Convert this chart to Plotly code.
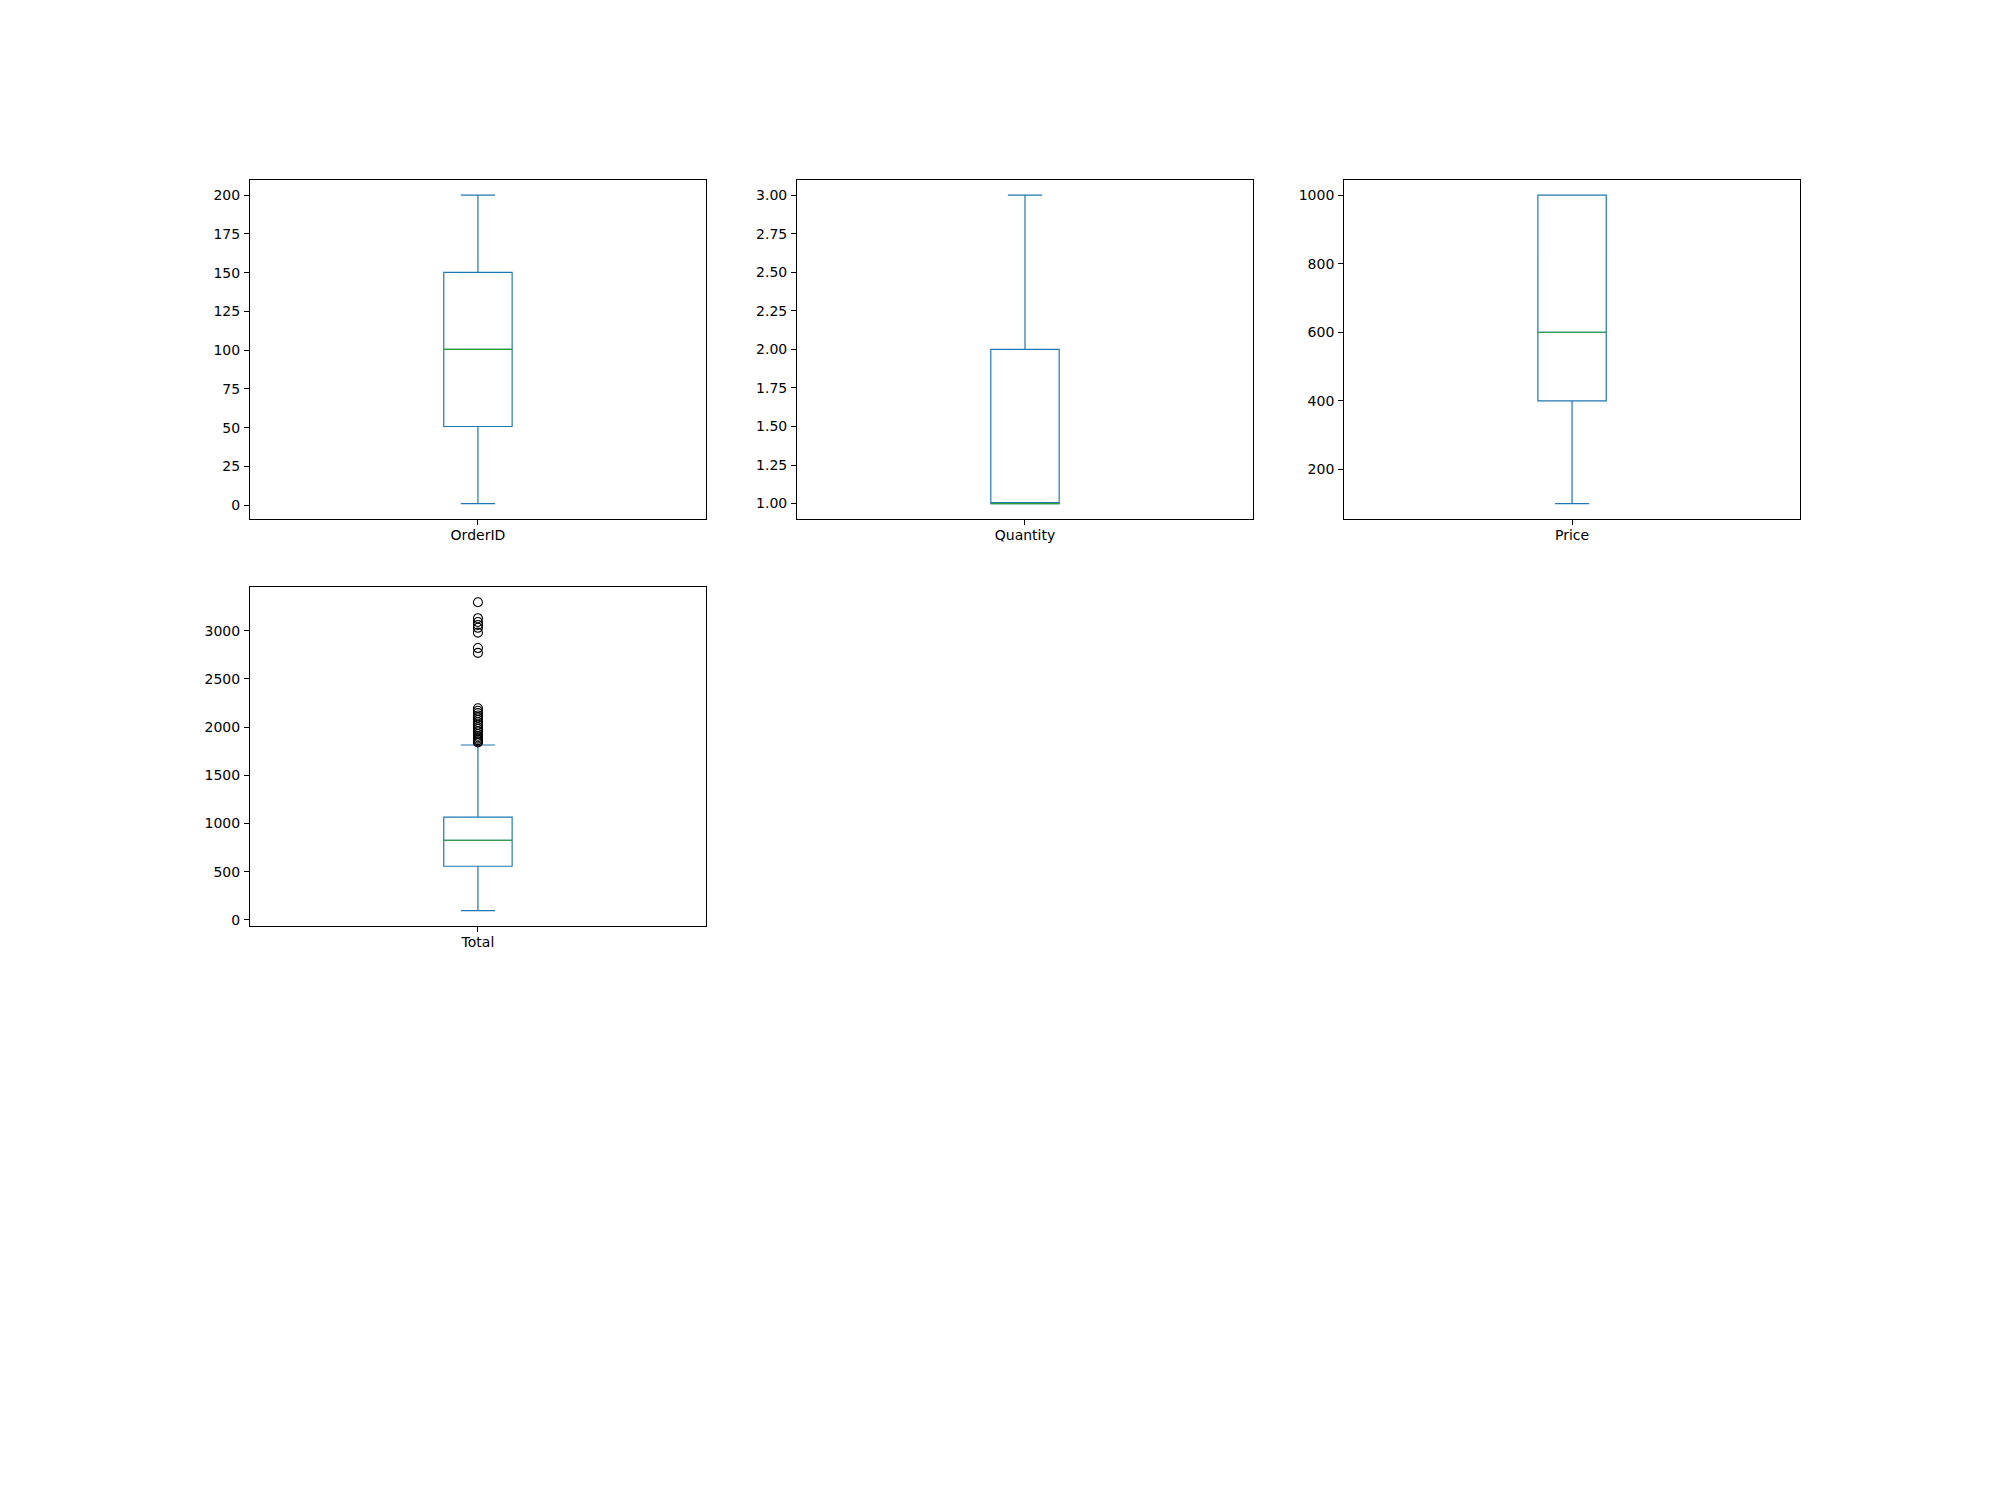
import plotly.graph_objects as go

# ---- data ----
names = ["OrderID", "Quantity", "Price", "Total"]
lower_whisker = [1, 1, 100, 95]
q1_vals = [50.75, 1.0, 400, 556]
median_vals = [100.5, 1.0, 600, 826]
q3_vals = [150.25, 2.0, 1000, 1065]
upper_whisker = [200, 3, 1000, 1814]
total_outliers = [1840, 1850, 1865, 1880, 1895, 1910, 1930, 1955, 1980, 2000,
                  2025, 2050, 2075, 2100, 2120, 2145, 2170, 2195,
                  2770, 2820, 2980, 3030, 3060, 3090, 3130, 3295]
outliers = [[], [], [], total_outliers]
tick_vals = [
    [0, 25, 50, 75, 100, 125, 150, 175, 200],
    [1.0, 1.25, 1.5, 1.75, 2.0, 2.25, 2.5, 2.75, 3.0],
    [200, 400, 600, 800, 1000],
    [0, 500, 1000, 1500, 2000, 2500, 3000],
]
tick_formats = ["d", ".2f", "d", "d"]

# ---- layout geometry (matplotlib-like 3x3 grid) ----
W, H = 2000, 1500
left, right, bottom, top = 0.125, 0.9, 0.11, 0.88
ncol = nrow = 3
cw = (right - left) / (ncol + (ncol - 1) * 0.2)
rh = (top - bottom) / (nrow + (nrow - 1) * 0.2)

BLUE = "#1f77b4"
GREEN = "#2ca02c"
BOX_W = 0.15

fig = go.Figure()
layout = dict(
    width=W, height=H, autosize=False,
    margin=dict(l=0, r=0, t=0, b=0),
    paper_bgcolor="white", plot_bgcolor="white",
    showlegend=False,
    font=dict(family="DejaVu Sans", size=14, color="black"),
)

axis_common = dict(
    showline=True, linecolor="black", linewidth=1, mirror=True,
    ticks="outside", ticklen=5, tickwidth=1, tickcolor="black",
    showgrid=False, zeroline=False,
    tickfont=dict(family="DejaVu Sans", size=14, color="black"),
)

for i, name in enumerate(names):
    r, c = divmod(i, ncol)
    x0 = left + c * cw * 1.2
    y1 = top - r * rh * 1.2
    y0 = y1 - rh
    k = "" if i == 0 else str(i + 1)
    xa, ya = "x" + k, "y" + k

    fig.add_trace(go.Box(
        x=[1], q1=[q1_vals[i]], median=[median_vals[i]], q3=[q3_vals[i]],
        lowerfence=[lower_whisker[i]], upperfence=[upper_whisker[i]],
        width=BOX_W, whiskerwidth=0.5, boxpoints=False,
        line=dict(color=BLUE, width=1.2), fillcolor="rgba(0,0,0,0)",
        xaxis=xa, yaxis=ya, hoverinfo="skip",
    ))
    fig.add_trace(go.Scatter(
        x=[1 - BOX_W / 2, 1 + BOX_W / 2], y=[median_vals[i], median_vals[i]],
        mode="lines", line=dict(color=GREEN, width=1.2),
        xaxis=xa, yaxis=ya, hoverinfo="skip",
    ))
    if outliers[i]:
        fig.add_trace(go.Scatter(
            x=[1] * len(outliers[i]), y=outliers[i], mode="markers",
            marker=dict(symbol="circle-open", size=9, color="black",
                        line=dict(width=1.1, color="black")),
            xaxis=xa, yaxis=ya, hoverinfo="skip",
        ))

    all_vals = [lower_whisker[i], upper_whisker[i]] + outliers[i]
    lo, hi = min(all_vals), max(all_vals)
    pad = 0.05 * (hi - lo)

    layout["xaxis" + k] = dict(
        axis_common, domain=[x0, x0 + cw], range=[0.5, 1.5],
        tickvals=[1], ticktext=[name], anchor=ya, fixedrange=True,
        ticklabelstandoff=-2,
    )
    layout["yaxis" + k] = dict(
        axis_common, domain=[y0, y1], range=[lo - pad, hi + pad],
        tickvals=tick_vals[i], tickformat=tick_formats[i], anchor=xa,
        fixedrange=True, ticklabelstandoff=1,
    )

fig.update_layout(**layout)
fig.write_html("out.html")
